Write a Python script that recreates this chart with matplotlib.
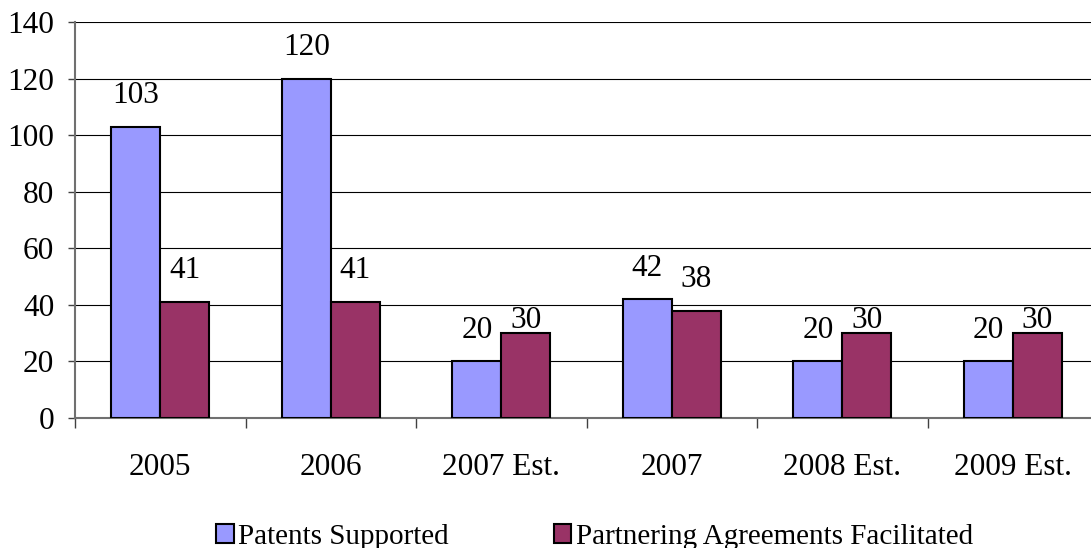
import matplotlib
matplotlib.use("Agg")
import matplotlib.pyplot as plt
import numpy as np
from matplotlib.patches import Patch

categories = ["2005", "2006", "2007 Est.", "2007", "2008 Est.", "2009 Est."]
patents = [103, 120, 20, 42, 20, 20]
partnering = [41, 41, 30, 38, 30, 30]
series_names = ["Patents Supported", "Partnering Agreements Facilitated"]

BLUE = "#9999FF"
PLUM = "#993366"
FONT = ["Liberation Serif", "DejaVu Serif"]
FS = 22.5

plt.rcParams["font.family"] = FONT

fig = plt.figure(figsize=(10.91, 5.48), dpi=100)
# plot area: left edge at x=75px, runs slightly past the right edge
ax = fig.add_axes([75 / 1091, 130 / 548, 1023 / 1091, 396 / 548])

x = np.arange(len(categories))
w = 0.287
ax.bar(x - w / 2, patents, w, color=BLUE, edgecolor="black", lw=1.5, zorder=3)
ax.bar(x + w / 2, partnering, w, color=PLUM, edgecolor="black", lw=1.5, zorder=3)

# value labels (Excel tucked the "30" labels down onto the bar tops)
for i in range(len(categories)):
    ax.annotate(str(patents[i]), (x[i] - w / 2, patents[i]), xytext=(0, 12),
                textcoords="offset points", ha="center", va="bottom", fontsize=FS)
    dy = -1 if partnering[i] == 30 else 12
    ax.annotate(str(partnering[i]), (x[i] + w / 2, partnering[i]), xytext=(0, dy),
                textcoords="offset points", ha="center", va="bottom", fontsize=FS)

ax.set_xlim(-0.5, 5.5)
ax.set_ylim(0, 140)
ax.set_yticks(range(0, 141, 20))
ax.yaxis.grid(True, color="black", lw=0.8, zorder=0)
ax.set_axisbelow(True)

ax.set_xticks(np.arange(-0.5, 5.6, 1))
ax.set_xticklabels([])
ax.set_xticks(x, minor=True)
ax.set_xticklabels(categories, minor=True)
ax.tick_params(axis="x", which="major", direction="out", length=7, width=1, color="#404040")
ax.tick_params(axis="x", which="minor", length=0, pad=25, labelsize=FS)
ax.tick_params(axis="y", direction="out", length=5, width=1, color="#404040", pad=10, labelsize=FS)

for s in ["top", "right"]:
    ax.spines[s].set_visible(False)
for s in ["left", "bottom"]:
    ax.spines[s].set_color("#707070")
    ax.spines[s].set_linewidth(1.5)

handles = [Patch(facecolor=BLUE, edgecolor="black", lw=1.5),
           Patch(facecolor=PLUM, edgecolor="black", lw=1.5)]
fig.legend(handles, series_names, loc="center", bbox_to_anchor=(0.545, 0.02),
           ncol=2, frameon=False, fontsize=21, handlelength=0.6, handleheight=0.6,
           handletextpad=0.15, columnspacing=3.6)

fig.savefig("out.png", dpi=100, facecolor="white")
